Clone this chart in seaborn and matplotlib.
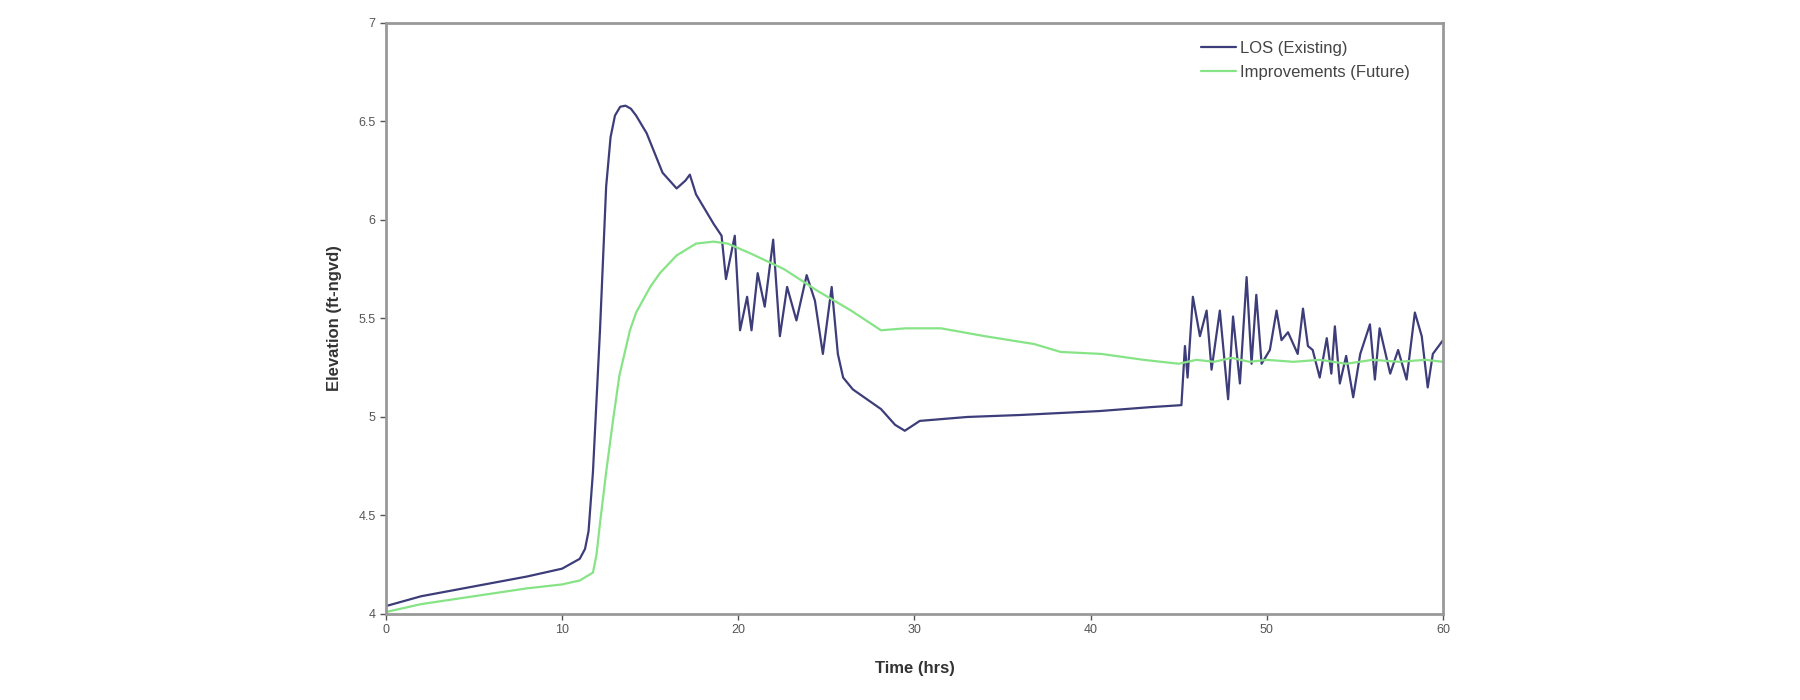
import numpy as np
import pandas as pd
import seaborn as sns
import matplotlib.pyplot as plt

# LOS (Existing)
los_t = [0, 2, 5, 8, 10, 11, 11.3, 11.5, 11.75, 12.15, 12.5, 12.75, 13.0, 13.3, 13.6,
         13.9, 14.2, 14.8, 15.7, 16.5, 17.0, 17.25, 17.6, 18.6, 19.05, 19.3, 19.8, 20.1,
         20.5, 20.75, 21.1, 21.5, 21.98, 22.36, 22.77, 23.3, 23.88, 24.35, 24.8, 25.3,
         25.65, 25.95, 26.5, 28.1, 28.9, 29.45, 30.3, 33, 36, 40.5, 43.4, 45.15, 45.35,
         45.5, 45.8, 46.2, 46.58, 46.86, 47.33, 47.8, 48.08, 48.47, 48.85, 49.13, 49.4,
         49.7, 50.17, 50.55, 50.83, 51.2, 51.75, 52.05, 52.33, 52.6, 53.0, 53.4, 53.66,
         53.86, 54.14, 54.5, 54.9, 55.3, 55.85, 56.13, 56.4, 57.0, 57.45, 57.93, 58.4,
         58.79, 59.13, 59.42, 60]
los_v = [4.04, 4.09, 4.14, 4.19, 4.23, 4.28, 4.33, 4.42, 4.72, 5.44, 6.17, 6.42, 6.53,
         6.575, 6.58, 6.565, 6.53, 6.44, 6.24, 6.16, 6.20, 6.23, 6.13, 5.98, 5.92, 5.70,
         5.92, 5.44, 5.61, 5.44, 5.73, 5.56, 5.90, 5.41, 5.66, 5.49, 5.72, 5.59, 5.32,
         5.66, 5.32, 5.20, 5.14, 5.04, 4.96, 4.93, 4.98, 5.00, 5.01, 5.03, 5.05, 5.06,
         5.36, 5.20, 5.61, 5.41, 5.54, 5.24, 5.54, 5.09, 5.51, 5.17, 5.71, 5.27, 5.62,
         5.27, 5.34, 5.54, 5.39, 5.43, 5.32, 5.55, 5.36, 5.34, 5.20, 5.40, 5.22, 5.46,
         5.17, 5.31, 5.10, 5.32, 5.47, 5.19, 5.45, 5.22, 5.34, 5.19, 5.53, 5.41, 5.15,
         5.32, 5.39]

# Improvements (Future)
imp_t = [0, 2, 5, 8, 10, 11, 11.75, 11.95, 12.15, 12.5, 12.9, 13.25, 13.85, 14.2, 15.0,
         15.55, 16.5, 17.6, 18.6, 19.4, 20.7, 22.6, 24.5, 26.4, 28.1, 29.5, 31.5, 34.0,
         36.8, 38.3, 40.6, 43.0, 45.0, 46.0, 47.0, 48.0, 49.0, 50.0, 51.5, 53.0, 54.5,
         56.0, 57.5, 59.0, 60]
imp_v = [4.01, 4.05, 4.09, 4.13, 4.15, 4.17, 4.21, 4.30, 4.46, 4.72, 4.99, 5.21, 5.44,
         5.53, 5.66, 5.73, 5.82, 5.88, 5.89, 5.88, 5.83, 5.75, 5.64, 5.54, 5.44, 5.45,
         5.45, 5.41, 5.37, 5.33, 5.32, 5.29, 5.27, 5.29, 5.28, 5.30, 5.28, 5.29, 5.28,
         5.29, 5.27, 5.29, 5.28, 5.29, 5.28]

los = pd.DataFrame({"t": los_t, "v": los_v})
imp = pd.DataFrame({"t": imp_t, "v": imp_v})

sns.set_style("white")
plt.rcParams['font.family'] = ['Liberation Sans', 'DejaVu Sans']

fig = plt.figure(figsize=(18, 7), dpi=100)
ax = fig.add_axes([0.2144, 0.1229, 0.5873, 0.8443])

sns.lineplot(data=los, x="t", y="v", ax=ax, color="#3d3d7a", lw=1.6, label="LOS (Existing)")
sns.lineplot(data=imp, x="t", y="v", ax=ax, color="#86e486", lw=1.6, label="Improvements (Future)")

ax.set_xlim(0, 60)
ax.set_ylim(4, 7)
ax.set_xticks(range(0, 61, 10))
ax.set_yticks([4, 4.5, 5, 5.5, 6, 6.5, 7])
ax.set_yticklabels(["4", "4.5", "5", "5.5", "6", "6.5", "7"])
ax.set_xlabel("Time (hrs)", fontsize=12, fontweight="bold", color="#333333", labelpad=18)
ax.set_ylabel("Elevation (ft-ngvd)", fontsize=12, fontweight="bold", color="#333333", labelpad=12)
ax.tick_params(axis="both", labelsize=9, colors="#555555", direction="out", length=4, width=1,
               bottom=True, left=True)
for s in ax.spines.values():
    s.set_color("#999999")
    s.set_linewidth(2)

leg = ax.legend(loc="upper right", frameon=False, fontsize=12, handlelength=2.1,
                handletextpad=0.25, labelspacing=0.55, borderpad=0, borderaxespad=0,
                bbox_to_anchor=(0.969, 0.970))
for txt in leg.get_texts():
    txt.set_color("#444444")

fig.savefig("out.png", dpi=100)
